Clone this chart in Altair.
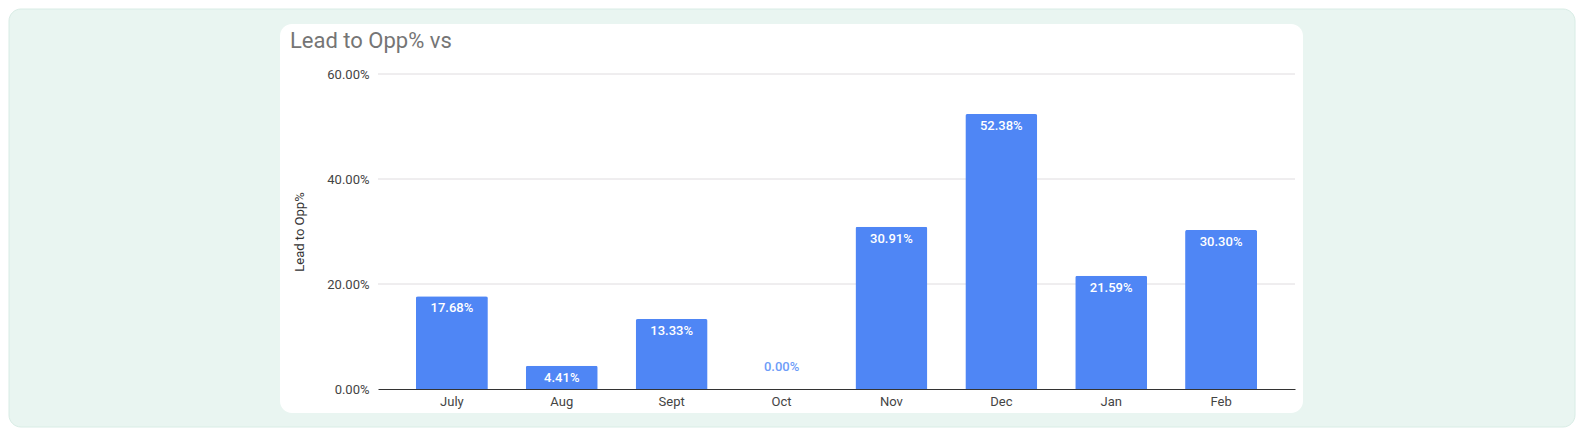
import altair as alt
import pandas as pd

# ---- data ----
months = ["July", "Aug", "Sept", "Oct", "Nov", "Dec", "Jan", "Feb"]
rates = [0.1768, 0.0441, 0.1333, 0.0, 0.3091, 0.5238, 0.2159, 0.3030]
y_ticks = [0.0, 0.2, 0.4, 0.6]
chart_title = "Lead to Opp% vs"
y_title = "Lead to Opp%"

df = pd.DataFrame({"month": months, "rate": rates})
grid_df = pd.DataFrame({"tick": y_ticks[1:]})
one = alt.Data(values=[{"k": 1}])
title_data = alt.Data(values=[{"t": chart_title}])

# ---- layout ----
W, H = 917, 315
PL, PT, PR, PB = 370, 66, 281, 39
TW = PL + W + PR
TH = PT + H + PB

FONT = "Roboto"
BAR = "#4f86f5"

x_enc = alt.X(
    "month:N",
    sort=months,
    scale=alt.Scale(paddingInner=0.345, paddingOuter=0.345),
    axis=alt.Axis(
        title=None, labelAngle=0, labelFont=FONT, labelFontSize=13,
        labelColor="#444444", labelPadding=6, ticks=False,
        domainColor="#333333", domainWidth=1, zindex=1,
    ),
)
y_scale = alt.Scale(domain=[0, 0.6])
y_axis = alt.Axis(
    values=y_ticks, format=".2%", grid=False, domain=False, ticks=False,
    labelFont=FONT, labelFontSize=13, labelColor="#444444", labelPadding=9,
    title=y_title, titleFont=FONT, titleFontSize=13, titleFontWeight="normal",
    titleColor="#333333", titlePadding=20, zindex=1,
)

outer = alt.Chart(one).mark_rect(
    fill="#e9f5f1", stroke="#d8ece5", strokeWidth=1, cornerRadius=12
).encode(
    x=alt.value(-PL + 1), x2=alt.value(TW - PL - 1),
    y=alt.value(-PT + 1), y2=alt.value(TH - PT - 1),
)

card = alt.Chart(one).mark_rect(fill="white", cornerRadius=12).encode(
    x=alt.value(-98), x2=alt.value(925),
    y=alt.value(-50), y2=alt.value(339),
)

title_mark = alt.Chart(title_data).mark_text(
    align="left", baseline="alphabetic", font=FONT, fontSize=22,
    color="#757575",
).encode(
    text="t:N", x=alt.value(-88), y=alt.value(-26),
)

grid = alt.Chart(grid_df).mark_rule(color="#dfdcdf", strokeWidth=1).encode(
    y=alt.Y("tick:Q", scale=y_scale, axis=y_axis),
    x=alt.value(0), x2=alt.value(W),
)

base = alt.Chart(df)

bars = base.mark_bar(
    color=BAR, cornerRadiusTopLeft=2, cornerRadiusTopRight=2
).encode(x=x_enc, y=alt.Y("rate:Q", scale=y_scale, axis=y_axis))

inside = base.transform_filter("datum.rate > 0").mark_text(
    baseline="top", dy=6, color="white", font=FONT, fontSize=13, fontWeight=500
).encode(
    x=alt.X("month:N", sort=months),
    y=alt.Y("rate:Q"),
    text=alt.Text("rate:Q", format=".2%"),
)

zero = base.transform_filter("datum.rate == 0").mark_text(
    baseline="bottom", dy=-15, color="#6d9cf8", font=FONT, fontSize=13, fontWeight=500
).encode(
    x=alt.X("month:N", sort=months),
    y=alt.Y("rate:Q"),
    text=alt.Text("rate:Q", format=".2%"),
)

chart = alt.layer(outer, card, title_mark, grid, bars, inside, zero).properties(
    width=W,
    height=H,
    padding={"left": PL, "top": PT, "right": PR, "bottom": PB},
    autosize=alt.AutoSizeParams(type="none"),
).configure(background="white").configure_view(stroke=None)

chart.save("out.html", embed_options={"renderer": "svg", "actions": False})
